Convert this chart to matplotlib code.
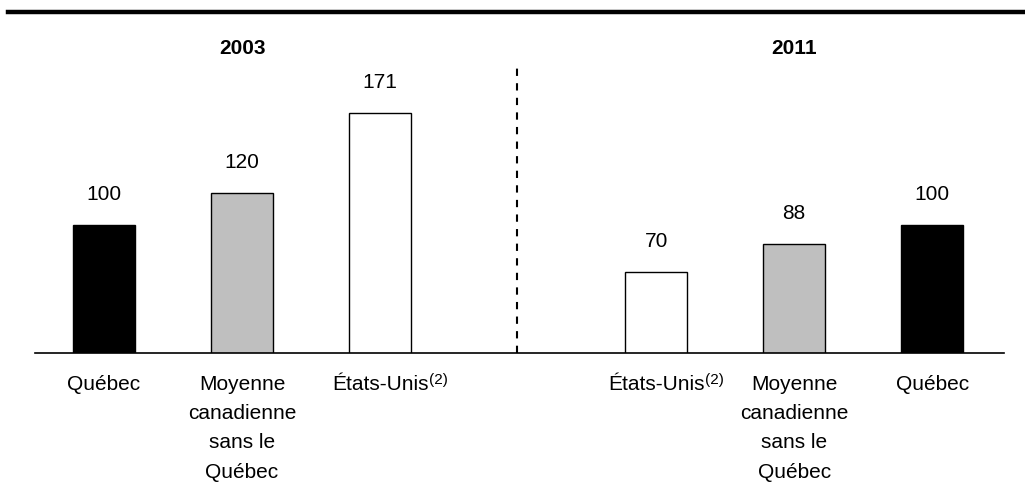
import matplotlib
matplotlib.use("Agg")
import matplotlib.pyplot as plt
from matplotlib.lines import Line2D
import matplotlib.transforms as mtrans

plt.rcParams['font.family'] = ['Liberation Sans', 'DejaVu Sans']

# Data
years = ["2003", "2011"]
categories_2003 = ["Québec", "Moyenne\ncanadienne\nsans le\nQuébec", "États-Unis"]
values_2003 = [100, 120, 171]
categories_2011 = ["États-Unis", "Moyenne\ncanadienne\nsans le\nQuébec", "Québec"]
values_2011 = [70, 88, 100]
note_mark = "(2)"
colors_2003 = ["#000000", "#BFBFBF", "#FFFFFF"]
colors_2011 = ["#FFFFFF", "#BFBFBF", "#000000"]

W, H = 1025, 503
fig = plt.figure(figsize=(W / 100, H / 100), dpi=100)
ax_left, ax_right = 35, 1004
ax_top, ax_bot = 11, 353
ax = fig.add_axes([ax_left / W, 1 - ax_bot / H, (ax_right - ax_left) / W, (ax_bot - ax_top) / H])

pos_2003 = [0, 1, 2]
pos_2011 = [4, 5, 6]
bw = 0.45

ax.bar(pos_2003, values_2003, width=bw, color=colors_2003, edgecolor="black", linewidth=1, zorder=2)
ax.bar(pos_2011, values_2011, width=bw, color=colors_2011, edgecolor="black", linewidth=1, zorder=2)

ax.set_xlim(-0.5, 6.52)
ax.set_ylim(18.8, 235.7)

for s in ["top", "right", "left"]:
    ax.spines[s].set_visible(False)
ax.spines["bottom"].set_linewidth(1.2)
ax.spines["bottom"].set_zorder(3)
ax.set_xticks([])
ax.set_yticks([])

fs = 15
for x, v in list(zip(pos_2003, values_2003)) + list(zip(pos_2011, values_2011)):
    ax.annotate(f"{v}", xy=(x, v), xytext=(0, 18), textcoords="offset points",
                ha="center", va="baseline", fontsize=fs)

trans = mtrans.blended_transform_factory(ax.transData, ax.transAxes)
for x, lab in list(zip(pos_2003, categories_2003)) + list(zip(pos_2011, categories_2011)):
    t = ax.text(x, -22 / 342, lab, transform=trans, ha="center", va="top",
                fontsize=fs, linespacing=1.68)
    if lab == "États-Unis":
        ax.annotate(note_mark, xy=(1, 0), xycoords=t, xytext=(0.5, 7.0),
                    textcoords="offset points", ha="left", va="baseline", fontsize=11)

ax.text(1, 211.6, years[0], ha="center", va="center", fontsize=fs, fontweight="bold")
ax.text(5, 211.6, years[1], ha="center", va="center", fontsize=fs, fontweight="bold")

ax.plot([2.99, 2.99], [18.8, 203], color="black", linewidth=1.5, linestyle=(0, (3.5, 3.5)), zorder=1)

# top rule
fig.add_artist(Line2D([8 / W, 1.0], [1 - 11.5 / H, 1 - 11.5 / H], color="black", linewidth=3.2))

fig.savefig("out.png", dpi=100)
